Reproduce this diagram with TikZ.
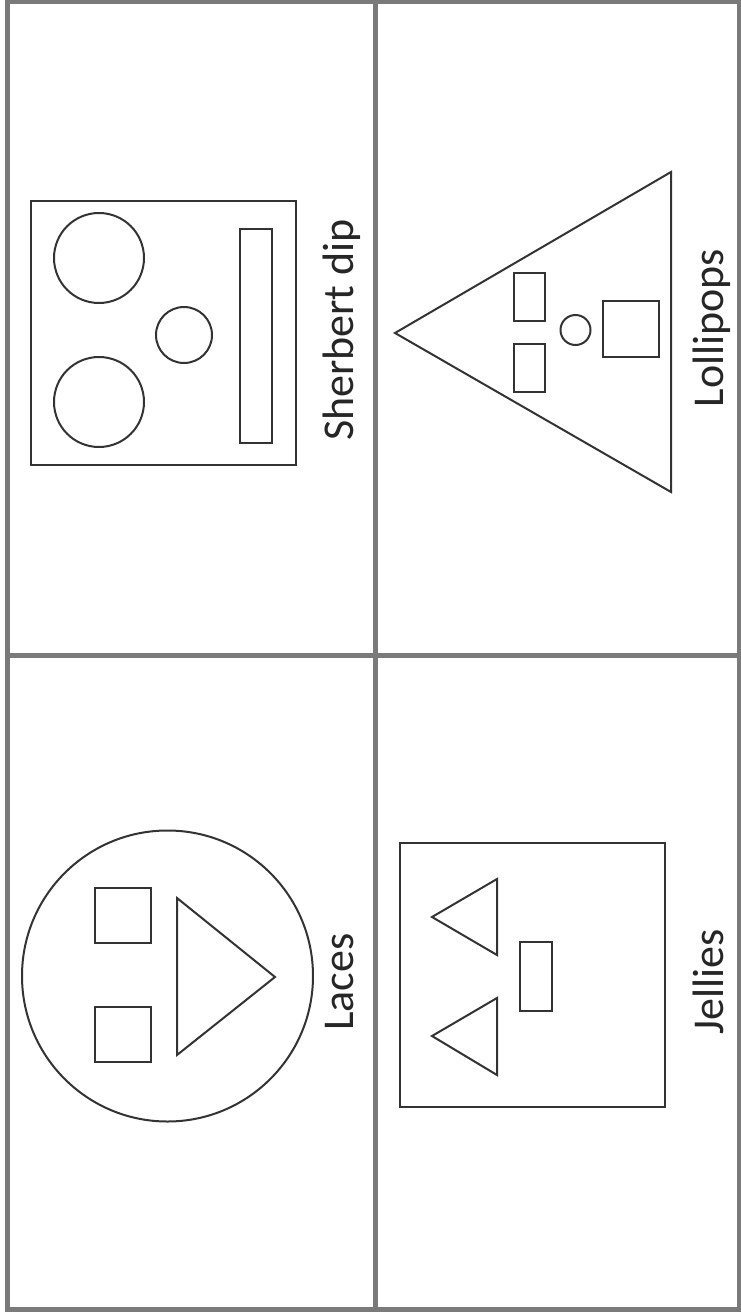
\documentclass[tikz,border=0pt]{standalone}
\usepackage{fontspec}
\setmainfont{Carlito}
\definecolor{rule}{HTML}{7A7A7A}
\definecolor{ink}{HTML}{333333}
\definecolor{caption}{HTML}{262626}
\begin{document}
\begin{tikzpicture}[
  x=0.5pt, y=-0.5pt,
  line join=miter,
  every node/.style={font=\fontsize{22}{26}\selectfont, inner sep=0pt},
  divider/.style={draw=rule, line width=2.5pt},
  outline/.style={draw=ink, line width=1pt},
  itemname/.style={text=caption, rotate=90, anchor=base},
]
\useasboundingbox (0,0) rectangle (740,1316);
\draw[divider] (7,2) rectangle (739,1309);
\draw[divider] (375,2) -- (375,1309);
\draw[divider] (7,655) -- (739,655);
\draw[outline] (31,201) rectangle (296,465);
\draw[outline] (99,258) circle[radius=45];
\draw[outline] (99,402) circle[radius=45];
\draw[outline] (184,335) circle[radius=28];
\draw[outline] (240,229) rectangle (272,443);
\node[itemname] (sherbert) at (353,330) {Sherbert dip};
\draw[outline] (395,333) -- (671,172) -- (671,492) -- cycle;
\draw[outline] (514,273) rectangle (545,321);
\draw[outline] (514,344) rectangle (545,392);
\draw[outline] (575.5,330) circle[radius=15];
\draw[outline] (603,301) rectangle (659,357);
\node[itemname] (lollipops) at (723,328) {Lollipops};
\draw[outline] (167.5,976) circle[radius=145.5];
\draw[outline] (95,888) rectangle (151,943);
\draw[outline] (95,1007) rectangle (151,1062);
\draw[outline] (177,898) -- (275,977) -- (177,1055) -- cycle;
\node[itemname] (laces) at (353,982) {Laces};
\draw[outline] (400,843) rectangle (665,1107);
\draw[outline] (432,917) -- (497,879) -- (497,955) -- cycle;
\draw[outline] (432,1036) -- (497,998) -- (497,1075) -- cycle;
\draw[outline] (520,942) rectangle (552,1011);
\node[itemname] (jellies) at (723,982) {Jellies};
\end{tikzpicture}
\end{document}
